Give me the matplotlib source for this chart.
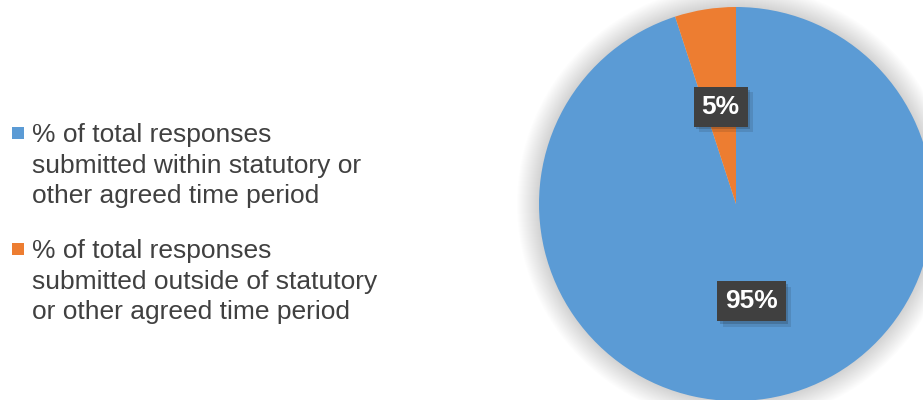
import matplotlib
matplotlib.use('Agg')
import matplotlib.pyplot as plt
from matplotlib.patches import Circle, Rectangle
import matplotlib.patheffects as pe

plt.rcParams['font.family'] = ['Liberation Sans', 'DejaVu Sans']

# 数据
values = [95, 5]
colors = ['#5B9BD5', '#ED7D31']
legend_lines = [
    ['% of total responses', 'submitted within statutory or', 'other agreed time period'],
    ['% of total responses', 'submitted outside of statutory', 'or other agreed time period'],
]

W, H = 923, 400
fig = plt.figure(figsize=(W / 100, H / 100), dpi=100)
fig.patch.set_facecolor('white')

# 饼图区域 (像素坐标换算)
cx, cy, R = 736, 204, 197
half = 225
ax = fig.add_axes([(cx - half) / W, (H - cy - half) / H, 2 * half / W, 2 * half / H])
ax.set_axis_off()

# 柔和阴影
for k in range(22, 0, -1):
    ax.add_patch(Circle((0, 0), 1 + k / R, color='black', alpha=0.008, lw=0, zorder=0))

wedges, texts, autotexts = ax.pie(
    values, colors=colors, startangle=90, counterclock=False, radius=1,
    autopct='%d%%', pctdistance=0.5,
    wedgeprops=dict(linewidth=0),
    textprops=dict(color='white', fontsize=19, fontweight='bold'),
)
for w in wedges:
    w.set_zorder(2)
for t in autotexts:
    t.set_zorder(5)
    t.set_bbox(dict(boxstyle='square,pad=0.3', facecolor='#404040', edgecolor='none'))
    t.get_bbox_patch().set_path_effects([
        pe.withSimplePatchShadow(offset=(4, -4), alpha=0.12),
        pe.withSimplePatchShadow(offset=(2, -2), alpha=0.18),
    ])

ax.set_xlim(-half / R, half / R)
ax.set_ylim(-half / R, half / R)

# 图例 (手动绘制)
text_x = 32 / W
baselines = [[142, 172.5, 203], [258, 288.5, 319]]
marker_tops = [127, 243]
for i, lines in enumerate(legend_lines):
    fig.patches.append(Rectangle((12 / W, (H - marker_tops[i] - 12) / H), 12 / W, 12 / H,
                                 transform=fig.transFigure, facecolor=colors[i],
                                 edgecolor='none'))
    for line, b in zip(lines, baselines[i]):
        fig.text(text_x, (H - b) / H, line, fontsize=19, color='#404040',
                 ha='left', va='baseline')

fig.savefig('out.png', dpi=100)
